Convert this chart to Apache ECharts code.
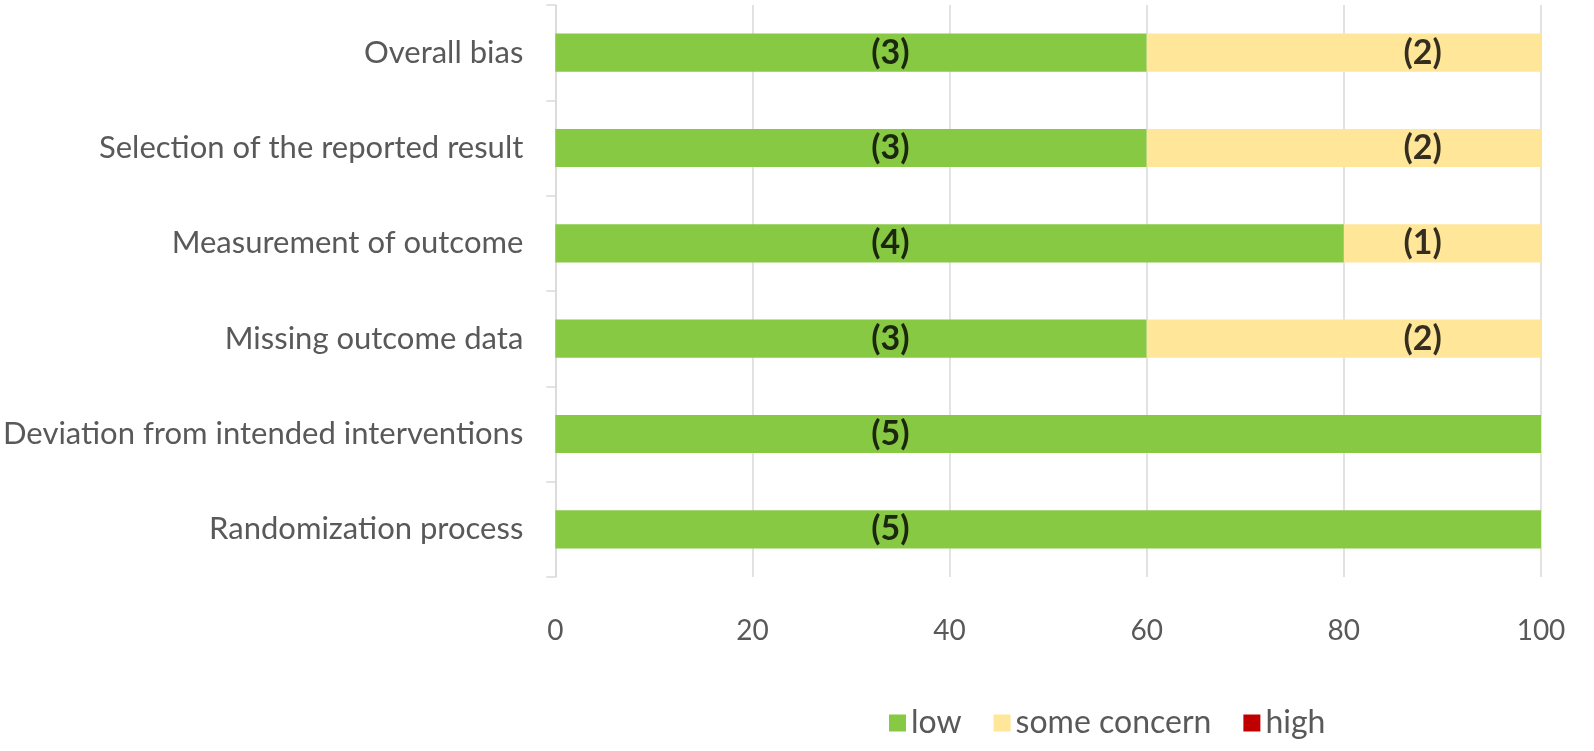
<!DOCTYPE html>
<html>
<head>
<meta charset="utf-8">
<script src="https://cdn.jsdelivr.net/npm/echarts@6/dist/echarts.min.js"></script>
<style>html,body{margin:0;padding:0;background:#fff;}#c{width:1594px;height:751px;}</style>
</head>
<body>
<div id="c"></div>
<script>
var categories = ['Randomization process', 'Deviation from intended interventions', 'Missing outcome data', 'Measurement of outcome', 'Selection of the reported result', 'Overall bias'];
var totalStudies = 5;
var lowCount = [5, 5, 3, 4, 3, 3];
var concernCount = [0, 0, 2, 1, 2, 2];
var highCount = [0, 0, 0, 0, 0, 0];
var xTicks = [0, 20, 40, 60, 80, 100];
var lowLabelX = 34;
var concernLabelX = 88;

function pct(c) { return c / totalStudies * 100; }
var lowPct = lowCount.map(pct);
var concernPct = concernCount.map(pct);
var highPct = highCount.map(pct);

var FONT = 'Lato';
var chart = echarts.init(document.getElementById('c'));

var labelStyle = {show: true, position: 'inside', color: '#000', fontWeight: 'bold', fontSize: 34, fontFamily: FONT,
  formatter: function (p) { return '(' + p.value[2] + ')'; }};

var lowLabels = categories.map(function (c, i) { return lowCount[i] > 0 ? [lowLabelX, c, lowCount[i]] : null; }).filter(Boolean);
var concernLabels = categories.map(function (c, i) { return concernCount[i] > 0 ? [concernLabelX, c, concernCount[i]] : null; }).filter(Boolean);

chart.setOption({
  animation: false,
  textStyle: {fontFamily: FONT},
  grid: {left: 550, right: 53, top: 5, bottom: 174, containLabel: false},
  legend: {
    data: ['low', 'some concern', 'high'],
    left: 884, top: 702,
    icon: 'rect', itemWidth: 17, itemHeight: 17, itemGap: 32,
    textStyle: {fontSize: 32, color: '#595959', fontFamily: FONT}
  },
  xAxis: {
    type: 'value', min: 0, max: 100, interval: 20,
    axisLine: {show: false}, axisTick: {show: false},
    splitLine: {lineStyle: {color: '#d9d9d9', width: 1.5}},
    axisLabel: {fontSize: 28, color: '#595959', margin: 40, fontFamily: FONT,
      formatter: function (v) { return xTicks.indexOf(v) >= 0 ? String(v) : ''; }}
  },
  yAxis: {
    type: 'category', data: categories,
    axisLine: {show: true, lineStyle: {color: '#d9d9d9', width: 1.5}},
    axisTick: {show: true, length: 9, lineStyle: {color: '#d9d9d9', width: 1.5}},
    axisLabel: {fontSize: 31, color: '#595959', margin: 32, fontFamily: FONT}
  },
  series: [
    {name: 'low', type: 'bar', stack: 'rob', data: lowPct, barWidth: '40%', itemStyle: {color: '#88C944'}},
    {name: 'some concern', type: 'bar', stack: 'rob', data: concernPct, barWidth: '40%', itemStyle: {color: '#FFE699'}},
    {name: 'high', type: 'bar', stack: 'rob', data: highPct, barWidth: '40%', itemStyle: {color: '#C00000'}},
    {name: 'lowLbl', type: 'scatter', data: lowLabels, symbolSize: 0, label: labelStyle, z: 10, silent: true},
    {name: 'concernLbl', type: 'scatter', data: concernLabels, symbolSize: 0, label: labelStyle, z: 10, silent: true}
  ]
});
</script>
</body>
</html>
